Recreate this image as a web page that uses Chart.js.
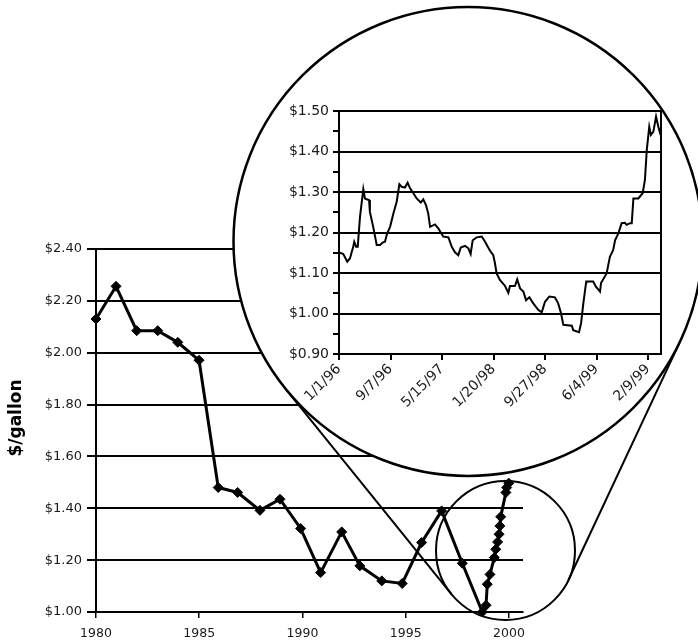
<!DOCTYPE html>
<html>
<head>
<meta charset="utf-8">
<script src="https://cdn.jsdelivr.net/npm/chart.js@4.4.0/dist/chart.umd.min.js"></script>
<style>
  body { margin: 0; background: #fff; }
  #wrap { position: relative; width: 698px; height: 644px; }
  canvas { position: absolute; left: 0; top: 0; }
</style>
</head>
<body>
<div id="wrap">
  <canvas id="mainChart" width="698" height="644"></canvas>
  <canvas id="insetChart" width="698" height="644"></canvas>
</div>
<script>
// annual prices 1980-1998, then the run of monthly points into 2000
const mainYears = [1980, 1980.97, 1981.97, 1982.99, 1983.96, 1984.99, 1985.92, 1986.86, 1987.94, 1988.91,
  1989.91, 1990.88, 1991.9, 1992.78, 1993.84, 1994.83, 1995.77, 1996.74, 1997.74,
  1998.71, 1998.89, 1998.95, 1999.08, 1999.29, 1999.36, 1999.45, 1999.52, 1999.56, 1999.6, 1999.85, 1999.89, 1999.99];
const mainPrices = [2.13, 2.256, 2.085, 2.085, 2.04, 1.971, 1.48, 1.461, 1.392, 1.435,
  1.322, 1.152, 1.309, 1.178, 1.12, 1.11, 1.268, 1.39, 1.188,
  1.0, 1.026, 1.107, 1.145, 1.21, 1.242, 1.27, 1.3, 1.332, 1.367, 1.461, 1.48, 1.497];
const mainYearTicks = [1980, 1985, 1990, 1995, 2000];

// inset: days since 1/1/96
const insetDays = [5, 21, 40, 53, 69, 74, 83, 91, 102, 118, 126, 134, 146, 150, 166, 183, 199, 212, 223, 234,
  248, 264, 280, 293, 304, 320, 333, 345, 361, 377, 397, 409, 422, 433, 442, 466, 482, 506, 531, 547,
  563, 579, 591, 612, 628, 639, 649, 668, 693, 709, 733, 749, 757, 765, 781, 806, 822, 830, 854, 865,
  879, 895, 908, 924, 943, 967, 984, 1000, 1021, 1048, 1064, 1078, 1089, 1130, 1137, 1165, 1175, 1186, 1199, 1200,
  1234, 1247, 1267, 1272, 1299, 1315, 1331, 1340, 1356, 1372, 1388, 1396, 1413, 1421, 1429, 1453, 1474, 1485, 1494, 1506,
  1514, 1526, 1539, 1550, 1561];
const insetPrices = [1.150, 1.147, 1.128, 1.136, 1.165, 1.177, 1.165, 1.165, 1.239, 1.307, 1.284, 1.282, 1.280, 1.251, 1.214, 1.169, 1.169, 1.175, 1.177, 1.198,
  1.214, 1.247, 1.276, 1.319, 1.313, 1.311, 1.323, 1.309, 1.297, 1.284, 1.274, 1.282, 1.268, 1.247, 1.214, 1.220, 1.210, 1.190, 1.188, 1.165,
  1.151, 1.144, 1.163, 1.167, 1.161, 1.147, 1.181, 1.188, 1.190, 1.177, 1.155, 1.144, 1.124, 1.099, 1.083, 1.068, 1.051, 1.068, 1.068, 1.084,
  1.062, 1.054, 1.033, 1.040, 1.025, 1.009, 1.003, 1.029, 1.042, 1.040, 1.025, 1.000, 0.972, 0.970, 0.959, 0.954, 0.976, 1.025, 1.075, 1.079,
  1.079, 1.066, 1.054, 1.075, 1.099, 1.140, 1.157, 1.181, 1.198, 1.223, 1.224, 1.219, 1.223, 1.223, 1.284, 1.284, 1.297, 1.330, 1.404, 1.461,
  1.441, 1.449, 1.486, 1.461, 1.441];
const insetTickDays = [0, 250, 500, 750, 1000, 1250, 1500];
const insetTickLabels = ["1/1/96", "9/7/96", "5/15/97", "1/20/98", "9/27/98", "6/4/99", "2/9/99"];

const FONT = "DejaVu Sans";
const INK = "#1a1a1a";

// magnifier geometry
const bigC = { x: 468, y: 241.5, r: 234.5 };
const smallC = { x: 505.5, y: 550.5, r: 69.5 };

function money(v) { return "$" + v.toFixed(2); }

var mainCtx = document.getElementById("mainChart").getContext("2d");
var mainChart = new Chart(mainCtx, {
  type: "line",
  data: {
    datasets: [{
      data: mainYears.map((y, i) => ({ x: y, y: mainPrices[i] })),
      borderColor: "#000",
      borderWidth: 3,
      pointStyle: "rectRot",
      pointRadius: 5,
      pointBackgroundColor: "#000",
      pointBorderColor: "#000",
      pointBorderWidth: 1,
      tension: 0,
      clip: false
    }]
  },
  options: {
    responsive: false,
    animation: false,
    layout: { padding: { top: 249, right: 175, bottom: 0, left: 0 } },
    plugins: { legend: { display: false }, tooltip: { enabled: false } },
    scales: {
      x: {
        type: "linear",
        min: 1980,
        max: 2000.68,
        afterFit: s => { s.height = 32; },
        afterBuildTicks: s => { s.ticks = mainYearTicks.map(v => ({ value: v })); },
        ticks: { color: INK, font: { family: FONT, size: 12.5 }, padding: 8, maxRotation: 0, callback: v => String(v) },
        grid: { drawOnChartArea: false, color: "#000", lineWidth: 1.5, tickLength: 6 },
        border: { color: "#000", width: 2 }
      },
      y: {
        min: 1,
        max: 2.4,
        afterFit: s => { s.width = 96; },
        ticks: { stepSize: 0.2, color: INK, font: { family: FONT, size: 13 }, padding: 5, callback: v => money(v) },
        grid: { color: "#000", lineWidth: 2, tickLength: 9 },
        border: { color: "#000", width: 2 }
      }
    }
  },
  plugins: [{
    id: "yTitle",
    afterDraw(chart) {
      const c = chart.ctx;
      c.save();
      c.translate(17, 418);
      c.rotate(-Math.PI / 2);
      c.font = "bold 17px " + FONT;
      c.fillStyle = "#000";
      c.textAlign = "center";
      c.textBaseline = "middle";
      c.fillText("$/gallon", 0, 0);
      c.restore();
    }
  }]
});

// outer tangents between the two circles
function tangents(a, b) {
  const dx = b.x - a.x, dy = b.y - a.y;
  const d = Math.hypot(dx, dy);
  const base = Math.atan2(dy, dx);
  const t = Math.acos((a.r - b.r) / d);
  return [base + t, base - t].map(ang => {
    const nx = Math.cos(ang), ny = Math.sin(ang);
    return [a.x + a.r * nx, a.y + a.r * ny, b.x + b.r * nx, b.y + b.r * ny];
  });
}

var insetCtx = document.getElementById("insetChart").getContext("2d");
var insetChart = new Chart(insetCtx, {
  type: "line",
  data: {
    datasets: [{
      data: insetDays.map((d, i) => ({ x: d, y: insetPrices[i] })),
      borderColor: "#000",
      borderWidth: 2,
      pointRadius: 0,
      tension: 0
    }]
  },
  options: {
    responsive: false,
    animation: false,
    layout: { padding: { top: 111, right: 37, bottom: 0, left: 0 } },
    plugins: { legend: { display: false }, tooltip: { enabled: false } },
    scales: {
      x: {
        type: "linear",
        min: 0,
        max: 1563,
        afterFit: s => { s.height = 644 - 354; },
        afterBuildTicks: s => { s.ticks = insetTickDays.map(v => ({ value: v })); },
        ticks: {
          color: INK, font: { family: FONT, size: 14 }, padding: 1,
          autoSkip: false, minRotation: 45, maxRotation: 45,
          callback: (v, i) => insetTickLabels[i]
        },
        grid: { drawOnChartArea: false, color: "#000", lineWidth: 2, tickLength: 6 },
        border: { color: "#000", width: 2 }
      },
      y: {
        min: 0.9,
        max: 1.5,
        afterFit: s => { s.width = 339; },
        ticks: {
          stepSize: 0.05, color: INK, font: { family: FONT, size: 14 }, padding: 4,
          callback: v => (Math.abs(v * 10 - Math.round(v * 10)) < 1e-6 ? money(v) : "")
        },
        grid: {
          color: c => (Math.abs(c.tick.value * 10 - Math.round(c.tick.value * 10)) < 1e-6 ? "#000" : "rgba(0,0,0,0)"),
          tickColor: "#000",
          lineWidth: 2,
          tickLength: 6
        },
        border: { color: "#000", width: 2 }
      }
    }
  },
  plugins: [{
    id: "magnifier",
    beforeDraw(chart) {
      const c = chart.ctx;
      c.save();
      c.strokeStyle = "#000";
      c.lineWidth = 2;
      c.beginPath();
      c.arc(smallC.x, smallC.y, smallC.r, 0, Math.PI * 2);
      c.stroke();
      tangents(bigC, smallC).forEach(l => {
        c.beginPath();
        c.moveTo(l[0], l[1]);
        c.lineTo(l[2], l[3]);
        c.stroke();
      });
      c.beginPath();
      c.arc(bigC.x, bigC.y, bigC.r, 0, Math.PI * 2);
      c.fillStyle = "#fff";
      c.fill();
      c.lineWidth = 2.5;
      c.stroke();
      c.restore();
    },
    afterDraw(chart) {
      const a = chart.chartArea, c = chart.ctx;
      c.save();
      c.strokeStyle = "#000";
      c.lineWidth = 2;
      c.beginPath();
      c.moveTo(a.right, a.top);
      c.lineTo(a.right, a.bottom);
      c.stroke();
      c.restore();
    }
  }]
});
</script>
</body>
</html>
